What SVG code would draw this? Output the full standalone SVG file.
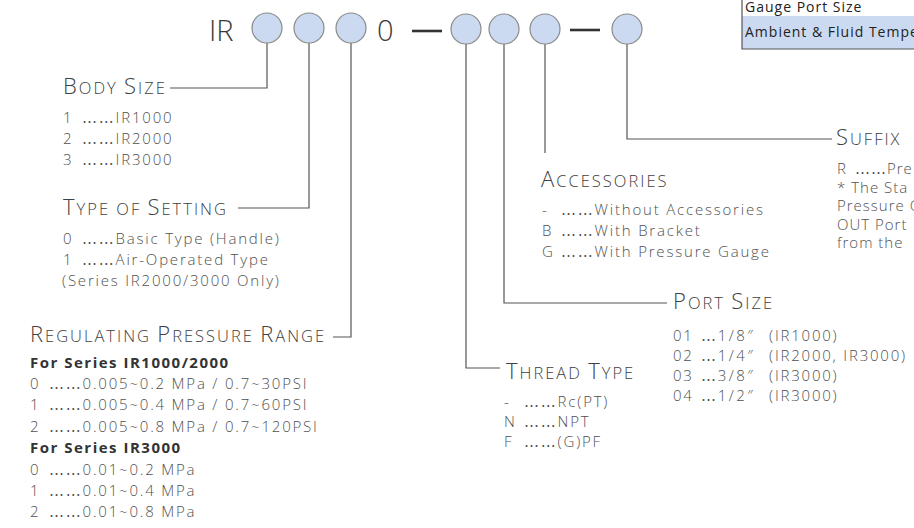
<svg xmlns="http://www.w3.org/2000/svg" width="914" height="528" viewBox="0 0 914 528">
<style>
  .bg{fill:#ffffff}
  .t{font-family:"Open Sans","Liberation Sans",sans-serif;font-size:15px;font-weight:300;fill:#505050;letter-spacing:1.8px}
  .el{font-family:"DejaVu Sans","Open Sans",sans-serif;font-weight:normal}
  .sx{letter-spacing:1px}
  .pr{letter-spacing:2.4px}
  .b{font-family:"Open Sans","Liberation Sans",sans-serif;font-size:15px;font-weight:bold;fill:#333;letter-spacing:1.5px}
  .h{font-family:"Open Sans","Liberation Sans",sans-serif;font-size:16.5px;font-weight:300;fill:#404040;letter-spacing:2px}
  .cap{font-size:22px}
  .big{font-family:"Open Sans","Liberation Sans",sans-serif;font-size:29px;font-weight:300;fill:#3a3a3a}
  .tab{font-family:"Open Sans","Liberation Sans",sans-serif;font-size:14px;fill:#222;letter-spacing:1px}
  .node{fill:#cbdaf0;stroke:#8a8a8a;stroke-width:1.2}
  .conn{fill:none;stroke:#555;stroke-width:1.2}
  .dash{stroke:#333;stroke-width:2.6}
</style>
<rect class="bg" x="0" y="0" width="914" height="528"/>

<g id="table">
  <rect x="742" y="16" width="172" height="33" fill="#cbdaf0"/>
  <path d="M742 0 V49 H914" fill="none" stroke="#555" stroke-width="1.2"/>
  <text class="tab" x="745" y="12">Gauge Port Size</text>
  <text class="tab" x="745" y="37">Ambient &amp; Fluid Tempe</text>
</g>

<g id="code">
  <text class="big" x="209" y="41">IR</text>
  <text class="big" x="377" y="41">0</text>
  <line class="dash" x1="412" y1="31" x2="442" y2="31"/>
  <line class="dash" x1="570" y1="30" x2="600" y2="30"/>
</g>

<g id="connectors">
  <path class="conn" d="M267 43 V88 H170"/>
  <path class="conn" d="M309 43 V208 H238"/>
  <path class="conn" d="M351 43 V337 H333"/>
  <path class="conn" d="M466 44 V368 H500"/>
  <path class="conn" d="M504 44 V303 H667"/>
  <path class="conn" d="M545 44 V153"/>
  <path class="conn" d="M627 44 V139 H832"/>
</g>

<g id="circle-body"><circle class="node" cx="267" cy="28" r="15"/></g>
<g id="circle-setting"><circle class="node" cx="309" cy="28" r="15"/></g>
<g id="circle-pressure"><circle class="node" cx="351" cy="28" r="15"/></g>
<g id="circle-thread"><circle class="node" cx="466" cy="29" r="15"/></g>
<g id="circle-port"><circle class="node" cx="504" cy="29" r="15"/></g>
<g id="circle-accessories"><circle class="node" cx="545" cy="29" r="15"/></g>
<g id="circle-suffix"><circle class="node" cx="627" cy="29" r="15"/></g>

<g id="body-size">
  <text class="h" x="63" y="94"><tspan class="cap">B</tspan>ODY <tspan class="cap">S</tspan>IZE</text>
  <text class="t" x="63" y="123">1 <tspan class="el" x="82">……</tspan>IR1000</text>
  <text class="t" x="63" y="144">2 <tspan class="el" x="82">……</tspan>IR2000</text>
  <text class="t" x="63" y="165">3 <tspan class="el" x="82">……</tspan>IR3000</text>
</g>

<g id="type-of-setting">
  <text class="h" x="63" y="215"><tspan class="cap">T</tspan>YPE OF <tspan class="cap">S</tspan>ETTING</text>
  <text class="t" x="63" y="244">0 <tspan class="el" x="82">……</tspan>Basic Type (Handle)</text>
  <text class="t" x="63" y="265">1 <tspan class="el" x="82">……</tspan>Air-Operated Type</text>
  <text class="t" x="62" y="286">(Series IR2000/3000 Only)</text>
</g>

<g id="regulating-pressure-range">
  <text class="h" x="30" y="342"><tspan class="cap">R</tspan>EGULATING <tspan class="cap">P</tspan>RESSURE <tspan class="cap">R</tspan>ANGE</text>
  <text class="b" x="30" y="368">For Series IR1000/2000</text>
  <text class="t" x="30" y="389">0 <tspan class="el" x="49">……</tspan>0.005~0.2 MPa / 0.7~30PSI</text>
  <text class="t" x="30" y="410">1 <tspan class="el" x="49">……</tspan>0.005~0.4 MPa / 0.7~60PSI</text>
  <text class="t" x="30" y="432">2 <tspan class="el" x="49">……</tspan>0.005~0.8 MPa / 0.7~120PSI</text>
  <text class="b" x="30" y="453">For Series IR3000</text>
  <text class="t" x="30" y="475">0 <tspan class="el" x="49">……</tspan>0.01~0.2 MPa</text>
  <text class="t" x="30" y="496">1 <tspan class="el" x="49">……</tspan>0.01~0.4 MPa</text>
  <text class="t" x="30" y="517">2 <tspan class="el" x="49">……</tspan>0.01~0.8 MPa</text>
</g>

<g id="accessories">
  <text class="h" x="541" y="187"><tspan class="cap">A</tspan>CCESSORIES</text>
  <text class="t" x="542" y="215">- <tspan class="el" x="561">……</tspan>Without Accessories</text>
  <text class="t" x="542" y="236">B <tspan class="el" x="561">……</tspan>With Bracket</text>
  <text class="t" x="542" y="257">G <tspan class="el" x="561">……</tspan>With Pressure Gauge</text>
</g>

<g id="port-size">
  <text class="h" x="673" y="309"><tspan class="cap">P</tspan>ORT <tspan class="cap">S</tspan>IZE</text>
  <text class="t" x="673" y="341">01 <tspan class="el" x="701">…</tspan><tspan class="pr">1/8″</tspan> <tspan x="769">(IR1000)</tspan></text>
  <text class="t" x="673" y="361">02 <tspan class="el" x="701">…</tspan><tspan class="pr">1/4″</tspan> <tspan x="769">(IR2000, IR3000)</tspan></text>
  <text class="t" x="673" y="381">03 <tspan class="el" x="701">…</tspan><tspan class="pr">3/8″</tspan> <tspan x="769">(IR3000)</tspan></text>
  <text class="t" x="673" y="401">04 <tspan class="el" x="701">…</tspan><tspan class="pr">1/2″</tspan> <tspan x="769">(IR3000)</tspan></text>
</g>

<g id="thread-type">
  <text class="h" x="506" y="379"><tspan class="cap">T</tspan>HREAD <tspan class="cap">T</tspan>YPE</text>
  <text class="t" x="504" y="407">- <tspan class="el" x="524">……</tspan>Rc(PT)</text>
  <text class="t" x="504" y="427">N <tspan class="el" x="524">……</tspan>NPT</text>
  <text class="t" x="504" y="447">F <tspan class="el" x="524">……</tspan>(G)PF</text>
</g>

<g id="suffix">
  <text class="h" x="836" y="145"><tspan class="cap">S</tspan>UFFIX</text>
  <text class="t sx" x="837" y="174">R <tspan class="el" x="855">……</tspan>Pre</text>
  <text class="t sx" x="837" y="192.5">* The Sta</text>
  <text class="t sx" x="837" y="211">Pressure G</text>
  <text class="t sx" x="837" y="229.5">OUT Port</text>
  <text class="t sx" x="837" y="248">from the</text>
</g>
</svg>
